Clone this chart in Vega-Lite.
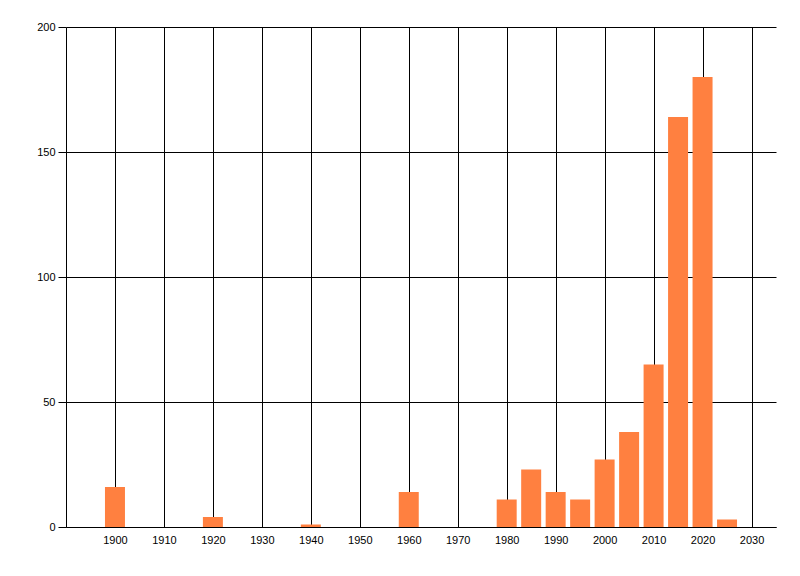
{
  "$schema": "https://vega.github.io/schema/vega-lite/v6.json",
  "autosize": {"type": "none"},
  "padding": {"left": 66, "top": 27, "right": 24, "bottom": 49},
  "width": 710,
  "height": 500,
  "background": "white",
  "data": {
    "values": [
      {"year": 1900, "count": 16},
      {"year": 1920, "count": 4},
      {"year": 1940, "count": 1},
      {"year": 1960, "count": 14},
      {"year": 1980, "count": 11},
      {"year": 1985, "count": 23},
      {"year": 1990, "count": 14},
      {"year": 1995, "count": 11},
      {"year": 2000, "count": 27},
      {"year": 2005, "count": 38},
      {"year": 2010, "count": 65},
      {"year": 2015, "count": 164},
      {"year": 2020, "count": 180},
      {"year": 2025, "count": 3}
    ]
  },
  "mark": {"type": "bar", "size": 20, "color": "#FF8040"},
  "encoding": {
    "x": {
      "field": "year",
      "type": "quantitative",
      "scale": {"domain": [1890, 2035], "nice": false, "zero": false, "padding": 0},
      "axis": {
        "title": null,
        "values": [1900, 1910, 1920, 1930, 1940, 1950, 1960, 1970, 1980, 1990, 2000, 2010, 2020, 2030],
        "format": "d",
        "grid": true,
        "gridColor": "black",
        "gridOpacity": 1,
        "gridWidth": 1,
        "ticks": false,
        "domainColor": "black",
        "labelColor": "black",
        "labelFont": "Liberation Sans",
        "labelFontSize": 11,
        "labelPadding": 7
      }
    },
    "y": {
      "field": "count",
      "type": "quantitative",
      "scale": {"domain": [0, 200], "nice": false},
      "axis": {
        "title": null,
        "values": [0, 50, 100, 150, 200],
        "grid": true,
        "gridColor": "black",
        "gridOpacity": 1,
        "gridWidth": 1,
        "ticks": true,
        "tickSize": 8,
        "tickColor": "black",
        "domainColor": "black",
        "labelColor": "black",
        "labelFont": "Liberation Sans",
        "labelFontSize": 11,
        "labelPadding": 3
      }
    }
  },
  "config": {
    "view": {"stroke": null}
  }
}
